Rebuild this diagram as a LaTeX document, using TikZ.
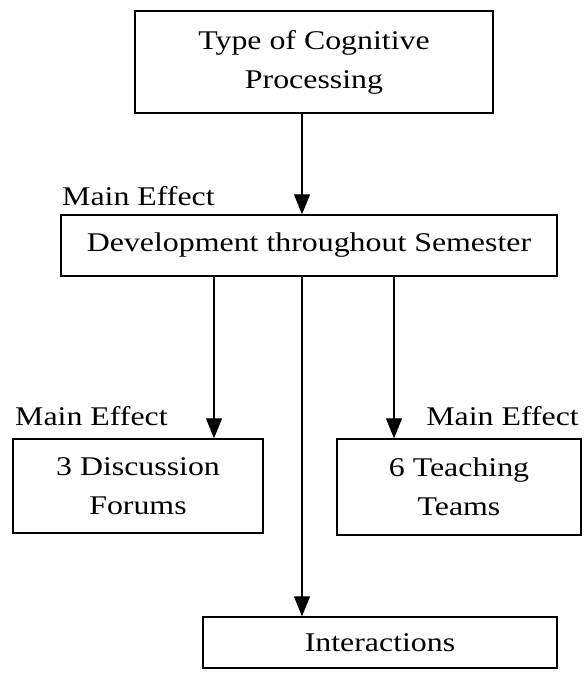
\documentclass[tikz,border=0pt]{standalone}
\usepackage{fontspec}
\setmainfont{Liberation Serif}[FakeStretch=1.18]
\usetikzlibrary{arrows.meta}
\begin{document}
\begin{tikzpicture}[x=1pt,y=-1pt,
  box/.style={draw, line width=1.4pt, inner sep=0pt, align=center,
    font=\fontsize{27}{39}\selectfont},
  lbl/.style={inner sep=0pt, font=\fontsize{27}{39}\selectfont},
  conn/.style={line width=1.3pt, -{Triangle[width=16pt,length=20pt]}}]
\useasboundingbox (0,0) rectangle (586,675);
\node[box, minimum width=358pt, minimum height=102pt] (top) at (314,62) {Type of Cognitive\\Processing};
\node[box, minimum width=496pt, minimum height=61pt] (dev) at (309,245.5) {Development throughout Semester};
\node[box, minimum width=250pt, minimum height=94pt] (forum) at (138,486) {3 Discussion\\Forums};
\node[box, minimum width=244pt, minimum height=96pt] (team) at (459,487) {6 Teaching\\Teams};
\node[box, minimum width=354pt, minimum height=51pt] (inter) at (380,642.5) {Interactions};
\node[lbl, anchor=base west] (me1) at (62,205) {Main Effect};
\node[lbl, anchor=base west] (me2) at (15,425) {Main Effect};
\node[lbl, anchor=base east] (me3) at (579,425) {Main Effect};
\coordinate (cm) at (302,0);
\coordinate (cl) at (214,0);
\coordinate (cr) at (394,0);
\draw[conn] (top.south -| cm) -- (dev.north -| cm);
\draw[conn] (dev.south -| cl) -- (forum.north -| cl);
\draw[conn] (dev.south -| cr) -- (team.north -| cr);
\draw[conn] (dev.south -| cm) -- (inter.north -| cm);
\end{tikzpicture}
\end{document}
